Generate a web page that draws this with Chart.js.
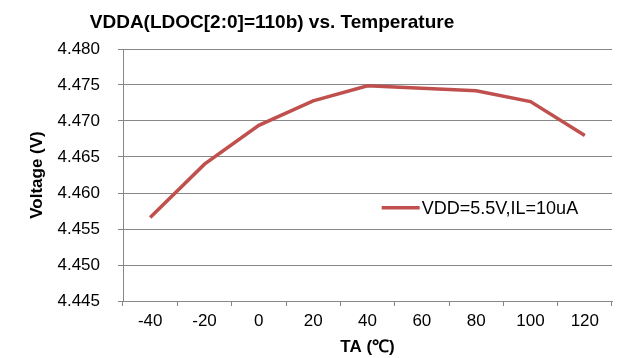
<!DOCTYPE html>
<html>
<head>
<meta charset="utf-8">
<script src="https://cdn.jsdelivr.net/npm/chart.js@4"></script>
<style>
	html, body { margin: 0; padding: 0; background: #fff; }
	#wrap { width: 617px; height: 358px; }
</style>
</head>
<body>
<div id="wrap"><canvas id="vddaChart"></canvas></div>
<script>
// temperature categories (°C) and measured VDDA output (V); no reading at 60
const temps = ["-40", "-20", "0", "20", "40", "60", "80", "100", "120"];
const vdda = [4.4566, 4.4640, 4.4694, 4.4728, 4.4749, null, 4.4742, 4.4727, 4.4680];
const seriesLabel = "VDD=5.5V,IL=10uA";
const chartTitle = "VDDA(LDOC[2:0]=110b) vs. Temperature";
const yTicks = { min: 4.445, max: 4.480, step: 0.005 };

const FONT = "'Liberation Sans', Arial, sans-serif";
const GRID = "#878787";
const RED = "#C0504D";

// title sits a bit left of the plot centre, so it is drawn by hand
const headTitle = {
	id: "headTitle",
	afterDraw(chart) {
		const ctx = chart.ctx;
		ctx.save();
		ctx.fillStyle = "#000";
		ctx.font = "bold 19px " + FONT;
		ctx.textAlign = "center";
		ctx.textBaseline = "middle";
		ctx.fillText(chartTitle, 272, 23);
		ctx.restore();
	}
};

// legend drawn inside the plot, on the right half
const insideLegend = {
	id: "insideLegend",
	afterDatasetsDraw(chart) {
		const { ctx, chartArea } = chart;
		const ds = chart.data.datasets[0];
		const x = chartArea.left + (chartArea.right - chartArea.left) * 0.529;
		const y = chartArea.top + (chartArea.bottom - chartArea.top) * 0.63;
		ctx.save();
		ctx.strokeStyle = ds.borderColor;
		ctx.lineWidth = 3.5;
		ctx.beginPath();
		ctx.moveTo(x, y);
		ctx.lineTo(x + 38, y);
		ctx.stroke();
		ctx.fillStyle = "#000";
		ctx.font = "18px " + FONT;
		ctx.textBaseline = "middle";
		ctx.fillText(ds.label, x + 40, y + 1);
		ctx.restore();
	}
};

new Chart(document.getElementById("vddaChart"), {
	type: "line",
	data: {
		labels: temps,
		datasets: [{
			label: seriesLabel,
			data: vdda,
			borderColor: RED,
			backgroundColor: RED,
			borderWidth: 3.5,
			pointRadius: 0,
			tension: 0,
			spanGaps: true
		}]
	},
	options: {
		responsive: true,
		maintainAspectRatio: false,
		animation: false,
		layout: { padding: { left: 0, right: 5, top: 49, bottom: 0 } },
		scales: {
			x: {
				type: "category",
				offset: true,
				grid: { offset: true, drawOnChartArea: false, drawTicks: true, tickLength: 5, color: GRID },
				border: { color: GRID, width: 1 },
				ticks: { color: "#000", font: { family: FONT, size: 17 }, padding: 5, maxRotation: 0, autoSkip: false },
				title: { display: true, text: "TA (℃)", color: "#000", font: { family: FONT, size: 17, weight: "bold" }, padding: { top: 0, bottom: 0 } },
				afterFit(scale) { scale.height = 57; }
			},
			y: {
				min: yTicks.min,
				max: yTicks.max,
				grid: { color: GRID, lineWidth: 1, drawTicks: true, tickLength: 5 },
				border: { color: GRID, width: 1 },
				ticks: {
					stepSize: yTicks.step,
					color: "#000",
					font: { family: FONT, size: 17 },
					padding: 18,
					callback: v => v.toFixed(3)
				},
				title: { display: true, text: "Voltage (V)", color: "#000", font: { family: FONT, size: 17, weight: "bold" }, padding: { top: 27, bottom: 0 } },
				afterFit(scale) { scale.width = 123; }
			}
		},
		plugins: {
			title: { display: false },
			legend: { display: false },
			tooltip: { enabled: false }
		}
	},
	plugins: [headTitle, insideLegend]
});
</script>
</body>
</html>
